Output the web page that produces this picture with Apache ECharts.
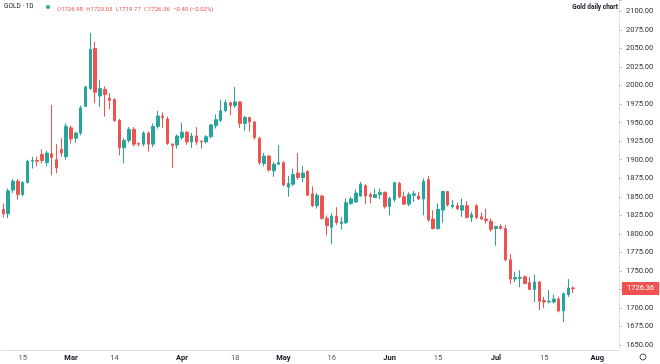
<!DOCTYPE html>
<html><head><meta charset="utf-8">
<script src="https://cdn.jsdelivr.net/npm/echarts/dist/echarts.min.js"></script>
<style>html,body{margin:0;padding:0;background:#fff}#c{width:660px;height:364px}</style>
</head><body><div id="c"></div><script>
// trading days (weekdays) per month, 2022
const monthDays = [
  ['02', [9,10,11,14,15,16,17,18,21,22,23,24,25,28]],
  ['03', [1,2,3,4,7,8,9,10,11,14,15,16,17,18,21,22,23,24,25,28,29,30,31]],
  ['04', [1,4,5,6,7,8,11,12,13,14,15,18,19,20,21,22,25,26,27,28,29]],
  ['05', [2,3,4,5,6,9,10,11,12,13,16,17,18,19,20,23,24,25,26,27,30,31]],
  ['06', [1,2,3,6,7,8,9,10,13,14,15,16,17,20,21,22,23,24,27,28,29,30]],
  ['07', [1,4,5,6,7,8,11,12,13,14,15,18,19,20,21,22,25,26,27,28,29]],
  ['08', [1,2,3,4,5]]
];
const dates = [];
monthDays.forEach(([m, ds]) => ds.forEach(d => dates.push(m + '-' + String(d).padStart(2, '0'))));

const tickDates = ['02-15','03-01','03-14','04-01','04-18','05-02','05-16','06-01','06-15','07-01','07-15','08-01'];
const tickTexts = ['15','Mar','14','Apr','18','May','16','Jun','15','Jul','15','Aug'];

const opens  = [1833,1827,1859,1871,1853,1869,1898,1899,1907,1896,1908,1900,1914,1904,1943,1929,1936,1972,1996,2050,
1986,1995,1983,1981,1953,1916,1926,1941,1922,1921,1936,1921,1945,1959,1955,1921,1920,1930,1937,1924,
1932,1925,1924,1931,1946,1953,1966,1977,1973,1978,1949,1957,1951,1929,1895,1905,1885,1894,1896,1863,
1867,1882,1876,1884,1854,1838,1851,1821,1809,1824,1814,1815,1841,1843,1851,1865,1853,1849,1853,1856,
1837,1846,1868,1850,1840,1852,1851,1847,1873,1820,1807,1832,1857,1837,1838,1832,1838,1822,1838,1823,
1820,1817,1807,1810,1807,1765,1739,1740,1742,1734,1725,1735,1710,1708,1708,1712,1696,1718,1726.98];
const closes = [1827,1858,1871,1853,1869,1898,1899,1898,1899,1909,1903,1889,1909,1945,1928,1936,1970,1998,2049,1991,
1996,1988,1980,1953,1916,1926,1941,1921,1921,1936,1921,1945,1959,1957,1922,1919,1932,1937,1924,1932,
1924,1924,1931,1947,1954,1966,1977,1973,1978,1949,1957,1951,1930,1896,1905,1886,1894,1896,1866,1868,
1880,1876,1882,1852,1838,1852,1821,1811,1824,1815,1816,1842,1847,1855,1867,1851,1850,1853,1856,1837,
1848,1869,1850,1840,1853,1854,1847,1871,1819,1807,1833,1857,1839,1839,1834,1838,1822,1826,1822,1820,
1818,1806,1810,1807,1765,1739,1741,1741,1733,1725,1735,1709,1708,1709,1712,1696,1719,1727,1726.36];
const lows   = [1822,1821,1855,1846,1851,1868,1888,1891,1895,1891,1879,1882,1904,1900,1922,1923,1933,1971,1994,1976,
1971,1958,1968,1951,1906,1895,1923,1918,1918,1918,1911,1917,1942,1943,1920,1889,1915,1927,1920,1916,
1920,1915,1922,1929,1942,1951,1964,1960,1970,1943,1939,1938,1927,1893,1891,1884,1877,1893,1864,1850,
1864,1873,1870,1851,1836,1834,1819,1798,1786,1812,1806,1813,1839,1842,1850,1840,1841,1848,1847,1834,
1825,1843,1848,1839,1837,1843,1846,1825,1816,1806,1806,1815,1837,1834,1832,1823,1821,1816,1820,1819,
1814,1803,1784,1806,1763,1732,1735,1728,1732,1724,1708,1697,1700,1706,1706,1694,1681,1715,1719.77];
const highs  = [1841,1861,1874,1874,1871,1900,1904,1904,1914,1912,1974,1921,1929,1949,1946,1938,1973,2000,2071,2059,
2008,1999,1990,1983,1955,1929,1944,1944,1923,1938,1938,1949,1966,1964,1958,1922,1934,1950,1939,1936,
1944,1926,1933,1948,1961,1981,1981,1978,1998,1979,1959,1958,1952,1931,1909,1906,1897,1920,1898,1878,
1888,1909,1892,1886,1864,1855,1853,1825,1828,1836,1823,1848,1850,1860,1870,1867,1856,1861,1861,1857,
1850,1870,1870,1857,1856,1858,1856,1875,1878,1832,1841,1858,1858,1846,1842,1848,1844,1830,1840,1829,
1834,1821,1811,1813,1812,1773,1749,1751,1744,1742,1745,1736,1715,1724,1718,1715,1721,1739,1729.03];

const lastPrice = 1726.36;
const legendText = {sym: 'GOLD · 1D', o: '1726.98', h: '1729.03', l: '1719.77', c: '1726.36', chg: '−0.40 (−0.02%)'};
const chartTitle = 'Gold daily chart';

const UP = '#26a69a', DOWN = '#ef5350';
const candles = opens.map((o, i) => [o, closes[i], lows[i], highs[i]]);

const chart = echarts.init(document.getElementById('c'), null, {renderer: 'canvas'});
const monthSet = ['Mar','Apr','May','Jun','Jul','Aug'];
chart.setOption({
  animation: false,
  backgroundColor: '#ffffff',
  grid: [
    {left: 1, width: 618, top: 0, height: 345},
    {left: 1, width: 618, top: 349, height: 1}
  ],
  xAxis: [
    {gridIndex: 0, type: 'category', data: dates, show: false},
    {gridIndex: 1, type: 'category', data: dates,
     axisLine: {show: true, lineStyle: {color: '#e0e3eb'}}, axisTick: {show: false},
     axisLabel: {
       interval: (i, v) => tickDates.includes(v),
       margin: 4, fontSize: 7.5, fontFamily: 'Roboto',
       formatter: v => {
         const t = tickTexts[tickDates.indexOf(v)];
         return monthSet.includes(t) ? '{m|' + t + '}' : '{d|' + t + '}';
       },
       rich: {m: {color: '#131722', fontSize: 7.5, fontFamily: 'Roboto', fontWeight: 'bold'},
              d: {color: '#555', fontSize: 7.5, fontFamily: 'Roboto'}}
     }}
  ],
  yAxis: [
    {gridIndex: 0, type: 'value', position: 'right', min: 1650, max: 2115.5, interval: 25,
     splitLine: {show: false}, showMaxLabel: false,
     axisLine: {show: true, lineStyle: {color: '#e0e3eb'}},
     axisTick: {show: true, length: 3, lineStyle: {color: '#c8cbd3'}},
     axisLabel: {fontSize: 7.5, fontFamily: 'Roboto', color: '#333', margin: 7,
       formatter: v => (v > 2100.01 || Math.abs(v % 25) > 0.01 || Math.abs(v - lastPrice) < 10) ? '' : v.toFixed(2)}},
    {gridIndex: 1, type: 'value', show: false}
  ],
  series: [{
    type: 'candlestick',
    xAxisIndex: 0, yAxisIndex: 0,
    data: candles,
    barWidth: 3,
    itemStyle: {color: UP, color0: DOWN, borderColor: UP, borderColor0: DOWN, borderWidth: 1},
    markLine: {
      silent: true, symbol: ['none', 'none'],
      lineStyle: {color: 'rgba(255,255,255,0)', type: 'solid', width: 1},
      label: {show: true, position: 'end', distance: 3, formatter: () => lastPrice.toFixed(2),
        color: '#fff', backgroundColor: DOWN, padding: [3, 5, 2, 5], fontSize: 7.5, fontFamily: 'Roboto'},
      data: [{yAxis: lastPrice}]
    }
  }],
  graphic: [
    {type: 'line', shape: {x1: 619.5, y1: 345, x2: 619.5, y2: 349}, style: {stroke: '#e0e3eb', lineWidth: 1}},
    {type: 'text', left: 4, top: 3, style: {text: legendText.sym, fontSize: 6.5, fontFamily: 'Roboto', fill: '#131722'}},
    {type: 'circle', shape: {cx: 48, cy: 7, r: 2}, style: {fill: UP}},
    {type: 'text', left: 57, top: 3.5, style: {
      text: '{k|O}{v|' + legendText.o + '} {k|H}{v|' + legendText.h + '} {k|L}{v|' + legendText.l + '} {k|C}{v|' + legendText.c + '} {v|' + legendText.chg + '}',
      rich: {k: {fill: '#e57373', fontSize: 6, fontFamily: 'Roboto'}, v: {fill: '#ef5350', fontSize: 6, fontFamily: 'Roboto'}}}},
    {type: 'text', right: 42, top: 3.5, style: {text: chartTitle, fontSize: 6.5, fontWeight: 'bold', fontFamily: 'Roboto', fill: '#131722'}},
    {type: 'circle', shape: {cx: 643, cy: 357, r: 3}, style: {fill: 'none', stroke: '#555', lineWidth: 1}}
  ]
});
</script></body></html>
